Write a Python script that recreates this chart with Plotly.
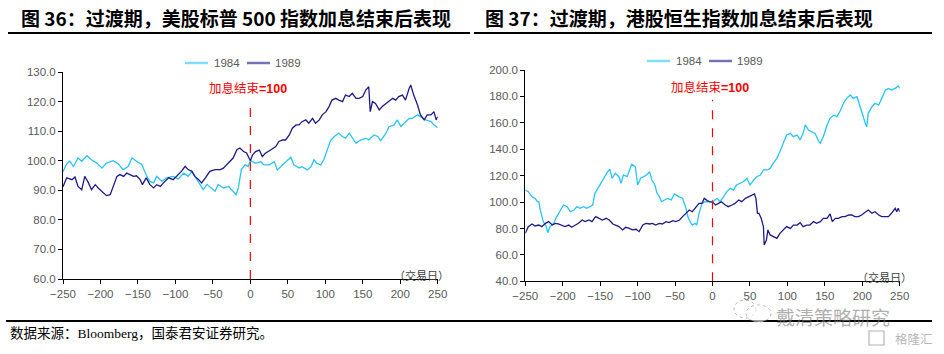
import plotly.graph_objects as go

# ---------------- data ----------------
sp_1984_days = [-250,-245,-241,-236,-230,-225,-218,-212,-205,-198,-192,-183,-176,-170,-163,-158,-152,-145,-138,-134,
                -129,-125,-118,-112,-103,-96,-89,-83,-78,-74,-67,-63,-58,-52,-47,-43,-36,-29,-23,-19,-16,-12,-7,-3,0,
                7,14,18,25,32,36,43,47,54,58,65,69,76,81,85,89,94,98,103,107,112,118,123,127,132,136,141,147,154,158,
                165,170,174,181,185,192,196,201,205,212,216,223,227,234,241,245,250]
sp_1984_vals = [96.3,99.0,99.8,98.0,100.9,99.8,101.7,100.3,99.2,97.5,99.2,100.0,98.9,97.0,98.0,100.9,99.8,98.7,94.7,93.0,
                92.5,94.7,93.0,94.2,94.7,93.8,95.8,94.7,96.4,94.7,92.0,90.2,92.0,90.8,89.7,92.0,90.8,91.3,89.7,88.5,90.8,97.0,98.7,98.0,100.0,
                99.1,99.7,98.6,98.6,99.7,96.9,98.6,99.7,101.2,98.6,97.5,98.0,96.9,98.0,100.3,99.1,98.6,100.3,104.2,106.8,108.2,109.3,108.2,107.6,109.3,107.6,105.9,107.0,107.6,107.0,
                108.7,108.2,106.8,109.3,111.5,112.1,113.8,111.5,112.7,114.3,114.3,115.5,114.9,113.8,113.2,112.1,111.2]

sp_1989_days = [-250,-245,-238,-234,-230,-225,-221,-216,-212,-207,-203,-198,-192,-187,-183,-178,-174,-169,-165,-161,-156,-152,
                -147,-144,-139,-134,-129,-125,-120,-116,-109,-103,-96,-92,-87,-83,-78,-74,-69,-65,-60,-54,-47,-40,-36,-29,-23,
                -18,-14,-9,-5,0,3,7,12,16,20,27,34,38,43,47,52,56,61,65,69,74,78,83,87,92,96,101,105,109,114,118,123,127,132,
                136,141,145,150,154,158,160,163,167,172,176,181,185,190,194,198,203,207,212,214,218,223,227,232,236,241,245,248,250]
sp_1989_vals = [91.2,94.2,93.6,94.5,91.3,90.2,94.7,92.5,90.2,91.9,90.8,89.7,88.2,88.5,91.3,94.7,95.3,94.7,95.8,95.3,94.7,94.9,
                93.6,91.9,94.2,91.9,90.8,91.9,91.3,92.5,94.2,93.6,95.3,96.4,98.1,97.0,96.4,94.7,93.6,92.5,94.2,96.4,97.0,97.0,97.5,99.2,100.9,
                103.7,104.3,103.1,102.6,100.0,102.0,103.1,103.6,101.4,102.5,103.6,104.8,106.5,107.0,107.0,108.7,111.0,112.1,112.1,113.2,113.8,112.7,114.3,112.7,113.8,115.5,116.6,118.3,120.5,121.1,120.5,120.0,122.2,121.7,
                122.8,121.1,121.1,121.7,123.9,125.0,116.6,120.0,119.4,117.2,118.3,119.4,120.0,121.1,120.5,121.7,122.2,120.5,124.5,125.6,122.2,118.9,115.5,113.8,115.5,115.5,116.6,113.8,114.9]

hs_1984_days = [-250,-246,-241,-237,-234,-232,-230,-228,-226,-222,-220,-217,-212,-208,-203,-199,-194,-190,-185,-181,-177,-172,-168,-163,-160,
                -157,-152,-148,-143,-140,-137,-134,-130,-125,-122,-119,-114,-111,-108,-103,-100,-96,-92,-88,-84,-81,-77,-74,-71,-68,
                -64,-60,-55,-51,-45,-40,-36,-33,-30,-27,-23,-21,-18,-14,-10,-5,0,
                6,10,15,19,24,28,32,37,41,46,50,55,59,64,68,73,77,81,86,90,95,99,104,108,113,117,121,124,128,133,137,142,144,148,
                153,157,162,166,170,175,179,184,188,193,197,200,204,206,208,213,217,222,226,231,235,239,244,248,250]
hs_1984_vals = [109.1,107.9,104.0,102.8,100.3,100.3,94.0,89.0,85.2,81.4,76.8,81.4,83.9,89.0,94.0,97.8,96.5,92.7,94.0,96.5,95.3,96.5,95.3,96.5,97.8,
                106.6,111.7,115.4,120.5,123.0,124.8,118.0,121.8,119.2,114.2,120.5,119.2,124.3,128.6,126.8,112.9,118.0,119.2,120.5,123.0,116.7,112.9,106.6,104.1,100.3,
                101.6,102.8,101.6,106.1,104.1,102.8,96.5,89.0,85.2,82.6,83.9,82.6,91.5,99.0,100.3,100.3,100.0,
                102.8,100.3,104.1,107.9,110.4,109.1,112.9,114.2,115.4,118.0,112.9,116.7,119.2,120.5,124.3,124.3,125.5,129.3,133.1,138.2,145.7,150.8,152.0,149.5,150.8,147.0,152.0,158.4,154.6,153.3,152.0,145.7,144.5,149.5,
                158.4,163.4,165.9,164.7,168.4,174.8,178.5,181.1,178.5,179.8,173.5,167.2,159.6,157.1,167.2,172.2,174.8,173.5,178.5,184.9,186.1,184.9,186.1,187.9,186.1]

hs_1989_days = [-250,-246,-241,-237,-232,-228,-223,-219,-214,-210,-206,-201,-197,-192,-188,-183,-179,-174,-170,-165,-161,-156,-151,-147,-142,
                -138,-133,-129,-125,-120,-116,-111,-107,-102,-98,-93,-89,-84,-80,-76,-71,-67,-62,-58,-53,-49,-44,-40,-36,-31,-27,-22,-18,-14,-11,-7,-4,0,
                4,8,12,17,21,26,30,35,39,44,48,53,56,58,60,62,65,68,69,72,74,77,81,86,90,95,99,104,108,113,117,121,126,130,135,139,144,148,
                153,157,160,164,168,173,177,182,186,190,195,199,204,208,213,217,222,226,231,235,239,244,246,248,250]
hs_1989_vals = [76.3,81.4,83.4,81.9,82.6,81.4,83.9,85.2,82.6,83.9,83.4,82.6,81.4,82.6,80.9,82.6,83.9,86.4,85.2,86.4,85.2,89.0,87.7,86.4,87.7,
                86.4,83.4,82.6,81.4,78.9,80.9,80.1,78.9,79.4,77.6,82.6,83.9,83.4,83.9,82.6,83.9,83.4,85.2,84.4,85.9,85.2,86.4,89.0,91.5,94.0,92.7,96.5,99.0,99.0,102.8,101.1,100.3,100.0,
                97.8,99.0,100.3,97.8,96.5,97.8,99.0,101.6,100.3,102.8,104.1,105.4,106.1,102.8,91.5,91.5,87.7,81.4,67.5,71.3,78.9,75.1,73.8,72.5,76.3,78.9,81.4,80.1,82.6,82.6,84.4,81.4,82.6,82.6,85.2,83.9,85.2,87.7,
                87.7,91.0,85.2,87.7,87.7,89.0,89.0,90.2,90.2,89.0,89.0,90.2,92.7,94.0,91.5,92.7,90.2,89.0,89.0,89.0,91.5,95.3,92.7,95.3,92.7]

x_ticks = [-250, -200, -150, -100, -50, 0, 50, 100, 150, 200, 250]
left_y_ticks = [60, 70, 80, 90, 100, 110, 120, 130]
right_y_ticks = [40, 60, 80, 100, 120, 140, 160, 180, 200]
series_names = ["1984", "1989"]

titles = ["图 36：过渡期，美股标普 500 指数加息结束后表现", "图 37：过渡期，港股恒生指数加息结束后表现"]
source_text = "数据来源：Bloomberg，国泰君安证券研究。"
marker_text = "加息结束<b>=100</b>"
day_label = "（交易日）"
watermark_text = "戴清策略研究"
logo_text = "格隆汇"

# ---------------- style ----------------
W, H = 944, 354
C84 = "#27C4F5"
C89 = "#1D1A86"
C84_LEG = "#7FDDFA"
C89_LEG = "#7474B4"
GRAY = "#595959"
CJK = "Noto Sans CJK SC"
LAT = "Liberation Sans"


def px(xp):
    return xp / W


def py(yp):
    return 1 - yp / H


fig = go.Figure()
fig.add_trace(go.Scatter(x=sp_1984_days, y=sp_1984_vals, name=series_names[0], mode="lines",
                         line=dict(color=C84, width=1.3), xaxis="x", yaxis="y"))
fig.add_trace(go.Scatter(x=sp_1989_days, y=sp_1989_vals, name=series_names[1], mode="lines",
                         line=dict(color=C89, width=1.3), xaxis="x", yaxis="y"))
fig.add_trace(go.Scatter(x=hs_1984_days, y=hs_1984_vals, name=series_names[0], mode="lines",
                         line=dict(color=C84, width=1.3), xaxis="x2", yaxis="y2"))
fig.add_trace(go.Scatter(x=hs_1989_days, y=hs_1989_vals, name=series_names[1], mode="lines",
                         line=dict(color=C89, width=1.3), xaxis="x2", yaxis="y2"))

axis_common = dict(showgrid=False, zeroline=False, showline=True, linecolor="black", linewidth=1,
                   ticks="outside", ticklen=4, tickcolor="black", tickwidth=1, automargin=False,
                   tickfont=dict(family=LAT, size=11.5, color=GRAY))

fig.update_layout(
    width=W, height=H,
    margin=dict(l=0, r=0, t=0, b=0, pad=0, autoexpand=False),
    paper_bgcolor="white", plot_bgcolor="white",
    showlegend=False,
    xaxis=dict(domain=[px(63), px(437.7)], range=[-250, 250], tickvals=x_ticks, anchor="y", **axis_common),
    yaxis=dict(domain=[py(279), py(72)], range=[60, 130], tickvals=left_y_ticks, tickformat=".1f", anchor="x", **axis_common),
    xaxis2=dict(domain=[px(525.3), px(899.7)], range=[-250, 250], tickvals=x_ticks, anchor="y2", **axis_common),
    yaxis2=dict(domain=[py(281.3), py(70)], range=[40, 200], tickvals=right_y_ticks, tickformat=".1f", anchor="x2", **axis_common),
)

shapes = []
ann = []

# title underlines and footer line
shapes.append(dict(type="line", xref="paper", yref="paper", x0=px(8), x1=px(470), y0=py(33), y1=py(33),
                   line=dict(color="black", width=2)))
shapes.append(dict(type="line", xref="paper", yref="paper", x0=px(474), x1=px(932), y0=py(33), y1=py(33),
                   line=dict(color="black", width=2)))
shapes.append(dict(type="line", xref="paper", yref="paper", x0=px(6), x1=px(932), y0=py(321), y1=py(321),
                   line=dict(color="black", width=2)))
# dashed markers at day 0
shapes.append(dict(type="line", xref="x", yref="y", x0=0, x1=0, y0=60, y1=120.2,
                   line=dict(color="#FF0000", width=1.2, dash="dash")))
shapes.append(dict(type="line", xref="x2", yref="y2", x0=0, x1=0, y0=40, y1=177.5,
                   line=dict(color="#FF0000", width=1.2, dash="dash")))

# manual legends (line sample + label)
legend_specs = [
    ((185, 208, 212, 63), (247, 270, 273, 63)),
    ((647, 670, 674, 61), (709, 732, 735, 61)),
]
leg_colors = [C84_LEG, C89_LEG]
for chart in legend_specs:
    for i, (lx0, lx1, tx, ly) in enumerate(chart):
        shapes.append(dict(type="line", xref="paper", yref="paper", x0=px(lx0), x1=px(lx1), y0=py(ly), y1=py(ly),
                           line=dict(color=leg_colors[i], width=2.5)))
        ann.append(dict(text=series_names[i], xref="paper", yref="paper", x=px(tx), y=py(ly),
                        xanchor="left", yanchor="middle", showarrow=False,
                        font=dict(family=LAT, size=11.5, color=GRAY)))

# watermark icon (two chat bubbles)
shapes.append(dict(type="circle", xref="paper", yref="paper", x0=px(734), x1=px(756), y0=py(318), y1=py(300),
                   line=dict(color="rgba(150,150,150,0.7)", width=1, dash="dot")))
shapes.append(dict(type="circle", xref="paper", yref="paper", x0=px(746), x1=px(771), y0=py(322), y1=py(305),
                   line=dict(color="rgba(150,150,150,0.7)", width=1, dash="dot"), fillcolor="rgba(255,255,255,0.6)"))
# logo box
shapes.append(dict(type="rect", xref="paper", yref="paper", x0=px(869), x1=px(884), y0=py(345), y1=py(331),
                   line=dict(color="rgba(150,150,150,0.7)", width=1.2)))
fig.update_layout(shapes=shapes)

# titles
ann.append(dict(text="<b>" + titles[0] + "</b>", xref="paper", yref="paper", x=px(19), y=py(18),
                xanchor="left", yanchor="middle", showarrow=False,
                font=dict(family=CJK, size=19, color="black")))
ann.append(dict(text="<b>" + titles[1] + "</b>", xref="paper", yref="paper", x=px(483), y=py(18),
                xanchor="left", yanchor="middle", showarrow=False,
                font=dict(family=CJK, size=19, color="black")))
# red marker labels
ann.append(dict(text=marker_text, xref="paper", yref="paper", x=px(248), y=py(88), xanchor="center", yanchor="middle",
                showarrow=False, font=dict(family=LAT + ", " + CJK, size=12.5, color="#FF0000")))
ann.append(dict(text=marker_text, xref="paper", yref="paper", x=px(710), y=py(87.5), xanchor="center", yanchor="middle",
                showarrow=False, font=dict(family=LAT + ", " + CJK, size=12.5, color="#FF0000")))
# axis unit labels
ann.append(dict(text=day_label, xref="paper", yref="paper", x=px(421), y=py(275), xanchor="center", yanchor="middle",
                showarrow=False, font=dict(family=CJK, size=11, color="#404040")))
ann.append(dict(text=day_label, xref="paper", yref="paper", x=px(884), y=py(277), xanchor="center", yanchor="middle",
                showarrow=False, font=dict(family=CJK, size=11, color="#404040")))
# source
ann.append(dict(text=source_text, xref="paper", yref="paper", x=px(8), y=py(333), xanchor="left", yanchor="middle",
                showarrow=False, font=dict(family="Liberation Serif, " + CJK, size=13.5, color="black")))
# watermarks
ann.append(dict(text=watermark_text, xref="paper", yref="paper", x=px(775), y=py(316), xanchor="left", yanchor="middle",
                showarrow=False, borderpad=0,
                font=dict(family=CJK, size=19, color="rgba(120,120,120,0.6)")))
ann.append(dict(text=logo_text, xref="paper", yref="paper", x=px(934), y=py(338.5), xanchor="right", yanchor="middle",
                showarrow=False, borderpad=0,
                font=dict(family=CJK, size=12.5, color="rgba(130,130,130,0.6)")))
fig.update_layout(annotations=ann)

fig.write_html("out.html")
